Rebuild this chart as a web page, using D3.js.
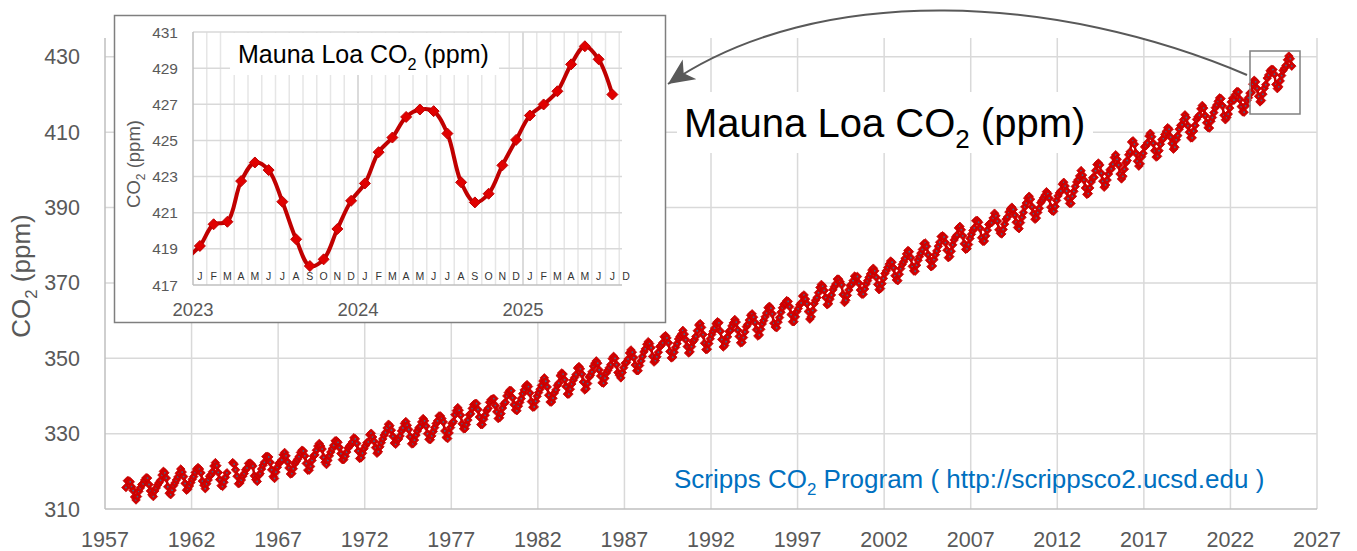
<!DOCTYPE html>
<html>
<head>
<meta charset="utf-8">
<script src="https://cdn.jsdelivr.net/npm/d3@7"></script>
<style>
  body { margin: 0; background: #fff; }
  svg { display: block; font-family: "Liberation Sans", Arial, sans-serif; }
</style>
</head>
<body>
<div id="chart"></div>
<script>
// Monthly Mauna Loa CO2 (ppm), one row per year, Jan..Dec (null = no value)
var firstYear = 1958;
var co2ByYear = [
  [null, null, 315.7, 317.5, 317.5, 317.2, 315.9, 314.9, 313.2, 312.4, 313.3, 314.7],
  [315.6, 316.5, 316.7, 317.7, 318.3, 318.2, 316.5, 314.8, 313.8, 313.3, 314.8, 315.6],
  [316.4, 317.0, 317.6, 319.0, 320.0, 319.6, 318.2, 315.9, 314.2, 313.8, 315.0, 316.2],
  [316.9, 317.7, 318.5, 319.5, 320.6, 319.8, 318.6, 316.8, 315.0, 315.3, 316.1, 317.0],
  [317.9, 318.6, 319.7, 320.6, 321.0, 320.6, 319.6, 317.4, 316.3, 315.4, 316.7, 317.7],
  [318.7, 319.1, 319.9, 321.4, 322.3, 321.5, 319.7, 317.8, 316.2, 316.0, 317.1, 318.4],
  [319.6, null, null, null, 322.3, 321.9, 320.4, 318.7, 316.7, 316.9, 317.7, 318.7],
  [319.4, 320.4, 320.9, 322.1, 322.2, 321.9, 321.4, 318.8, 317.8, 317.3, 318.9, 319.4],
  [320.6, 321.6, 322.4, 323.9, 324.0, 323.8, 322.4, 320.4, 318.6, 318.1, 319.8, 321.1],
  [322.1, 322.5, 323.0, 324.4, 325.0, 324.1, 322.5, 320.9, 319.3, 319.4, 320.7, 322.0],
  [322.6, 323.2, 323.9, 325.0, 325.6, 325.4, 324.1, 322.1, 320.3, 320.3, 321.3, 322.9],
  [324.0, 324.4, 325.6, 326.7, 327.4, 326.7, 325.9, 323.7, 322.4, 321.8, 322.9, 324.1],
  [325.1, 326.0, 326.9, 328.1, 328.1, 327.7, 326.3, 324.7, 323.1, 323.1, 324.0, 325.1],
  [326.2, 326.7, 327.2, 327.8, 328.9, 328.6, 327.4, 325.4, 323.4, 323.6, 324.8, 326.0],
  [326.8, 327.6, 327.8, 329.7, 330.1, 329.1, 328.0, 326.3, 324.8, 325.2, 326.5, 327.6],
  [328.6, 329.6, 330.3, 331.5, 332.5, 332.1, 330.9, 329.3, 327.5, 327.2, 328.2, 328.6],
  [329.4, 330.7, 331.5, 332.7, 333.2, 332.2, 331.1, 329.2, 327.3, 327.3, 328.3, 329.6],
  [330.7, 331.5, 331.9, 333.1, 334.0, 333.4, 332.0, 330.0, 328.5, 328.4, 329.4, 330.6],
  [331.6, 332.7, 333.4, 334.7, 334.7, 334.0, 333.1, 330.7, 329.0, 328.7, 330.2, 331.6],
  [332.7, 333.2, 335.0, 336.1, 336.9, 336.2, 334.9, 332.6, 331.3, 331.3, 332.4, 333.6],
  [335.0, 335.3, 336.7, 337.7, 338.0, 338.0, 336.4, 334.4, 332.4, 332.4, 333.8, 334.9],
  [336.1, 336.7, 338.3, 339.0, 339.2, 339.3, 337.5, 335.8, 334.0, 334.2, 335.3, 336.8],
  [337.9, 338.3, 340.0, 340.9, 341.5, 341.4, 339.5, 337.7, 336.3, 336.1, 337.3, 338.3],
  [339.3, 340.6, 341.6, 342.6, 343.0, 342.5, 340.8, 338.5, 337.0, 337.1, 338.6, 339.9],
  [340.9, 341.8, 342.8, 344.0, 344.8, 343.9, 342.4, 340.2, 338.4, 338.4, 339.4, 340.8],
  [341.6, 342.8, 343.4, 345.4, 346.1, 345.8, 344.3, 342.5, 340.5, 340.5, 341.8, 343.2],
  [344.2, 344.9, 345.7, 347.4, 347.8, 347.2, 345.8, 343.7, 341.6, 341.9, 343.3, 345.0],
  [345.5, 346.4, 347.9, 348.7, 349.3, 348.7, 346.9, 345.3, 343.5, 343.4, 344.7, 346.1],
  [346.8, 347.5, 348.3, 349.9, 350.5, 350.0, 348.3, 346.2, 345.5, 344.8, 346.2, 347.5],
  [348.7, 348.9, 349.8, 351.4, 352.2, 351.6, 350.2, 348.2, 346.7, 346.7, 348.1, 349.3],
  [350.5, 351.7, 352.5, 353.7, 354.4, 353.9, 352.8, 350.5, 349.0, 349.4, 350.4, 351.6],
  [353.1, 353.4, 354.1, 355.7, 356.0, 355.4, 354.1, 351.8, 350.1, 350.3, 351.6, 352.9],
  [353.9, 355.1, 355.8, 356.4, 357.4, 356.4, 354.9, 353.1, 351.4, 351.7, 353.1, 354.4],
  [354.9, 355.8, 357.3, 358.8, 359.2, 358.2, 356.3, 354.0, 352.3, 352.4, 353.9, 355.2],
  [356.3, 357.2, 358.0, 359.2, 359.7, 359.4, 357.2, 355.0, 353.0, 353.4, 354.4, 355.7],
  [357.1, 357.4, 358.6, 359.4, 360.3, 359.6, 357.5, 355.8, 354.1, 354.2, 355.5, 357.0],
  [358.4, 359.0, 360.1, 361.4, 361.8, 360.9, 359.5, 357.6, 355.9, 356.2, 357.7, 359.1],
  [360.0, 361.0, 362.0, 363.4, 363.8, 363.3, 361.8, 359.3, 358.3, 358.1, 359.6, 360.8],
  [362.2, 363.4, 364.3, 364.7, 365.3, 365.1, 363.7, 361.6, 359.7, 359.7, 361.0, 362.4],
  [363.2, 364.2, 364.7, 366.5, 366.8, 365.7, 364.5, 362.4, 360.4, 361.0, 362.7, 364.5],
  [365.4, 366.1, 367.4, 368.8, 369.6, 369.1, 368.0, 366.1, 364.2, 364.5, 365.7, 366.8],
  [368.2, 369.0, 369.7, 371.0, 371.0, 370.3, 369.5, 366.9, 364.8, 365.4, 366.7, 368.1],
  [369.3, 369.6, 370.6, 371.8, 371.6, 371.7, 369.9, 368.1, 367.0, 367.0, 368.4, 369.7],
  [370.6, 371.5, 372.4, 373.4, 373.9, 373.2, 371.5, 369.6, 368.2, 368.5, 369.8, 371.2],
  [372.5, 373.2, 374.1, 375.0, 375.8, 375.5, 374.0, 371.9, 370.8, 370.6, 372.3, 373.8],
  [374.9, 375.6, 376.5, 377.7, 378.6, 378.3, 376.7, 374.4, 373.2, 373.1, 374.7, 376.0],
  [377.0, 377.9, 378.9, 380.4, 380.6, 379.7, 377.5, 376.0, 374.3, 374.5, 376.2, 377.5],
  [378.5, 379.7, 380.8, 382.3, 382.5, 382.2, 380.7, 378.7, 376.7, 377.0, 378.4, 380.1],
  [381.4, 382.2, 382.7, 384.6, 385.0, 384.1, 382.5, 380.4, 378.9, 379.1, 380.2, 381.8],
  [382.9, 383.9, 384.6, 386.5, 386.6, 386.1, 384.5, 382.0, 381.0, 381.1, 382.5, 384.0],
  [385.5, 385.8, 386.0, 387.2, 388.5, 387.8, 386.4, 384.1, 383.2, 383.0, 384.2, 385.6],
  [386.9, 387.5, 388.8, 389.6, 390.1, 389.5, 388.0, 386.1, 384.7, 384.4, 386.0, 387.4],
  [388.7, 390.2, 391.2, 392.5, 393.0, 392.2, 390.2, 388.4, 386.9, 387.2, 388.7, 389.8],
  [391.3, 391.9, 392.6, 393.3, 394.2, 393.7, 392.5, 390.1, 389.1, 389.0, 390.3, 391.9],
  [393.1, 393.9, 394.4, 396.2, 396.7, 395.7, 394.4, 392.4, 391.1, 391.1, 393.0, 394.3],
  [395.6, 396.8, 397.4, 398.4, 399.8, 398.6, 397.3, 395.2, 393.5, 393.7, 395.2, 396.8],
  [397.9, 398.0, 399.8, 401.4, 401.8, 401.3, 399.1, 397.0, 395.4, 396.0, 397.3, 398.9],
  [400.0, 400.3, 401.5, 403.3, 404.0, 402.8, 401.3, 398.9, 397.6, 398.3, 400.2, 401.9],
  [402.5, 404.0, 404.8, 407.4, 407.7, 406.8, 404.4, 402.3, 401.0, 401.6, 403.5, 404.4],
  [406.1, 406.4, 407.2, 409.0, 409.7, 408.8, 407.1, 405.1, 403.4, 403.6, 405.1, 406.8],
  [408.0, 408.3, 409.4, 410.2, 411.2, 410.8, 408.7, 407.0, 405.5, 406.0, 408.0, 409.1],
  [410.8, 411.8, 412.0, 413.3, 414.6, 413.9, 411.7, 410.0, 408.5, 408.5, 410.3, 411.8],
  [413.4, 414.1, 414.5, 416.2, 417.1, 416.4, 414.4, 412.5, 411.2, 411.1, 412.9, 413.9],
  [415.2, 416.5, 417.2, 418.2, 419.1, 418.9, 417.0, 414.5, 413.3, 413.9, 414.8, 416.4],
  [418.0, 419.0, 418.5, 420.0, 420.8, 420.7, 418.7, 416.8, 415.4, 415.3, 417.0, 418.4],
  [419.16, 420.36, 420.5, 422.75, 423.78, 423.36, 421.61, 419.53, 418.05, 418.42, 420.1, 421.66],
  [422.62, 424.35, 425.16, 426.3, 426.71, 426.62, 425.38, 422.68, 421.57, 422.05, 423.62, 425.03],
  [426.38, 426.99, 427.72, 429.21, 430.21, 429.49, 427.54, null, null, null, null, null]
];

var mainYearTicks = [1957, 1962, 1967, 1972, 1977, 1982, 1987, 1992, 1997, 2002, 2007, 2012, 2017, 2022, 2027];
var mainCo2Ticks = [310, 330, 350, 370, 390, 410, 430];
var insetCo2Ticks = [417, 419, 421, 423, 425, 427, 429, 431];
var insetYearLabels = [2023, 2024, 2025];
var insetMonthLabels = ["J","F","M","A","M","J","J","A","S","O","N","D",
                        "J","F","M","A","M","J","J","A","S","O","N","D",
                        "J","F","M","A","M","J","J","D"];
var sourceText = "http://scrippsco2.ucsd.edu";

// flatten to points at mid-month
var series = [];
co2ByYear.forEach(function(row, i) {
  row.forEach(function(v, m) {
    series.push({ t: firstYear + i + (m + 0.5) / 12, v: v });
  });
});
// drop empty months at both ends
while (series.length && series[series.length - 1].v == null) series.pop();
while (series.length && series[0].v == null) series.shift();

var width = 1357, height = 551;
var svg = d3.select("#chart").append("svg")
  .attr("width", width)
  .attr("height", height);

var grey = "#595959";

function diamond(r) {
  return "M0," + (-r) + "L" + r + ",0L0," + r + "L" + (-r) + ",0Z";
}

// text with subscript 2 in CO2
function co2Text(sel, size, pre, post) {
  var t = sel.append("text").attr("font-size", size);
  t.append("tspan").text(pre + "CO");
  t.append("tspan").attr("font-size", size * 0.65).attr("dy", size * 0.28).text("2");
  t.append("tspan").attr("dy", -size * 0.28).text(post);
  return t;
}

// ---------- main chart ----------
var x = d3.scaleLinear().domain([1957, 2027]).range([105, 1317]);
var y = d3.scaleLinear().domain([310, 435]).range([509, 38]);

var main = svg.append("g");

main.append("g").selectAll("line")
  .data(mainYearTicks.slice(1))
  .enter().append("line")
  .attr("x1", function(d) { return x(d); })
  .attr("x2", function(d) { return x(d); })
  .attr("y1", y(435)).attr("y2", y(310))
  .attr("stroke", "#d9d9d9").attr("stroke-width", 1.5);

main.append("g").selectAll("line")
  .data(mainCo2Ticks.slice(1))
  .enter().append("line")
  .attr("x1", x(1957)).attr("x2", x(2027))
  .attr("y1", function(d) { return y(d); })
  .attr("y2", function(d) { return y(d); })
  .attr("stroke", "#d9d9d9").attr("stroke-width", 1.5);

// axis lines
main.append("line").attr("x1", x(1957)).attr("x2", x(1957)).attr("y1", y(435)).attr("y2", y(310))
  .attr("stroke", "#bfbfbf").attr("stroke-width", 1.5);
main.append("line").attr("x1", x(1957)).attr("x2", x(2027)).attr("y1", y(310)).attr("y2", y(310))
  .attr("stroke", "#bfbfbf").attr("stroke-width", 1.5);

// tick labels
main.append("g").selectAll("text")
  .data(mainYearTicks)
  .enter().append("text")
  .attr("x", function(d) { return x(d); })
  .attr("y", 547)
  .attr("text-anchor", "middle")
  .attr("font-size", 21.5)
  .attr("fill", grey)
  .text(function(d) { return d; });

main.append("g").selectAll("text")
  .data(mainCo2Ticks)
  .enter().append("text")
  .attr("x", 80)
  .attr("y", function(d) { return y(d) + 7.5; })
  .attr("text-anchor", "end")
  .attr("font-size", 21.5)
  .attr("fill", grey)
  .text(function(d) { return d; });

co2Text(main, 26, "", " (ppm)")
  .attr("transform", "translate(30,276) rotate(-90)")
  .attr("text-anchor", "middle")
  .attr("fill", grey);

// data
var mainLine = d3.line()
  .defined(function(d) { return d.v != null; })
  .x(function(d) { return x(d.t); })
  .y(function(d) { return y(d.v); });

main.append("path")
  .datum(series)
  .attr("d", mainLine)
  .attr("fill", "none")
  .attr("stroke", "#c00000")
  .attr("stroke-width", 2.5);

var pts = main.append("g").selectAll("g")
  .data(series.filter(function(d) { return d.v != null; }))
  .enter().append("g")
  .attr("transform", function(d) { return "translate(" + x(d.t) + "," + y(d.v) + ")"; });
pts.append("path")
  .attr("d", diamond(4.3))
  .attr("fill", "#d40000")
  .attr("stroke", "#c00000")
  .attr("stroke-width", 0.8);
pts.append("circle")
  .attr("r", 0.9)
  .attr("fill", "#3b6a8c");

// highlight box around recent data
main.append("rect")
  .attr("x", 1250).attr("y", 51)
  .attr("width", 50).attr("height", 63)
  .attr("fill", "none")
  .attr("stroke", "#808080")
  .attr("stroke-width", 1.5);

// big title with white background
main.append("rect")
  .attr("x", 677).attr("y", 92).attr("width", 416).attr("height", 61)
  .attr("fill", "#fff");
co2Text(main, 40, "Mauna Loa ", " (ppm)")
  .attr("x", 684).attr("y", 137)
  .attr("fill", "#000");

// source note
co2Text(main, 26, "Scripps ", " Program ( " + sourceText + " )")
  .attr("x", 674).attr("y", 488)
  .attr("fill", "#0070c0");

// ---------- inset ----------
var inset = svg.append("g");
var ix = d3.scaleLinear().domain([2023, 2025.6]).range([193, 622]);
var iy = d3.scaleLinear().domain([417, 431]).range([285, 32]);

inset.append("rect")
  .attr("x", 114.5).attr("y", 15.5)
  .attr("width", 551).attr("height", 307)
  .attr("fill", "#fff")
  .attr("stroke", "#7f7f7f")
  .attr("stroke-width", 1.5);

// month grid
var monthEdges = d3.range(1, 32).map(function(k) { return 2023 + k / 12; });
inset.append("g").selectAll("line")
  .data(monthEdges)
  .enter().append("line")
  .attr("x1", function(d) { return ix(d); })
  .attr("x2", function(d) { return ix(d); })
  .attr("y1", iy(431)).attr("y2", iy(417))
  .attr("stroke", function(d, i) { return (i + 1) % 12 === 0 ? "#cfcfcf" : "#e6e6e6"; })
  .attr("stroke-width", 1.5);

inset.append("g").selectAll("line")
  .data(insetCo2Ticks.slice(1))
  .enter().append("line")
  .attr("x1", ix(2023)).attr("x2", ix(2025.6))
  .attr("y1", function(d) { return iy(d); })
  .attr("y2", function(d) { return iy(d); })
  .attr("stroke", "#d9d9d9").attr("stroke-width", 1.5);

inset.append("line").attr("x1", ix(2023)).attr("x2", ix(2023)).attr("y1", iy(431)).attr("y2", iy(417))
  .attr("stroke", "#bfbfbf").attr("stroke-width", 1.5);
inset.append("line").attr("x1", ix(2023)).attr("x2", ix(2025.6)).attr("y1", iy(417)).attr("y2", iy(417))
  .attr("stroke", "#bfbfbf").attr("stroke-width", 1.5);

inset.append("g").selectAll("text")
  .data(insetCo2Ticks)
  .enter().append("text")
  .attr("x", 178)
  .attr("y", function(d) { return iy(d) + 5.5; })
  .attr("text-anchor", "end")
  .attr("font-size", 15.5)
  .attr("fill", grey)
  .text(function(d) { return d; });

inset.append("g").selectAll("text")
  .data(insetMonthLabels)
  .enter().append("text")
  .attr("x", function(d, i) { return ix(2023 + (i + 0.5) / 12); })
  .attr("y", 280)
  .attr("text-anchor", "middle")
  .attr("font-size", 10.5)
  .attr("fill", "#333")
  .text(function(d) { return d; });

inset.append("g").selectAll("text")
  .data(insetYearLabels)
  .enter().append("text")
  .attr("x", function(d) { return ix(d); })
  .attr("y", 316)
  .attr("text-anchor", "middle")
  .attr("font-size", 18.5)
  .attr("fill", grey)
  .text(function(d) { return d; });

co2Text(inset, 18.5, "", " (ppm)")
  .attr("transform", "translate(140,164) rotate(-90)")
  .attr("text-anchor", "middle")
  .attr("fill", grey);

// inset title
inset.append("rect")
  .attr("x", 230).attr("y", 33).attr("width", 269).attr("height", 42)
  .attr("fill", "#fff");
co2Text(inset, 25, "Mauna Loa ", " (ppm)")
  .attr("x", 238).attr("y", 63)
  .attr("fill", "#000");

// inset data
svg.append("clipPath").attr("id", "insetClip")
  .append("rect").attr("x", ix(2023)).attr("y", 20).attr("width", ix(2025.6) - ix(2023)).attr("height", 280);

var recent = series.filter(function(d) { return d.t > 2022.8 && d.v != null; });

var insetLine = d3.line()
  .curve(d3.curveCatmullRom.alpha(0.5))
  .x(function(d) { return ix(d.t); })
  .y(function(d) { return iy(d.v); });

var ig = inset.append("g").attr("clip-path", "url(#insetClip)");
ig.append("path")
  .datum(recent)
  .attr("d", insetLine)
  .attr("fill", "none")
  .attr("stroke", "#c00000")
  .attr("stroke-width", 4)
  .attr("stroke-linejoin", "round");

ig.selectAll(".mk")
  .data(recent.filter(function(d) { return d.t > 2023; }))
  .enter().append("path")
  .attr("class", "mk")
  .attr("transform", function(d) { return "translate(" + ix(d.t) + "," + iy(d.v) + ")"; })
  .attr("d", diamond(5.5))
  .attr("fill", "#e00000")
  .attr("stroke", "#c00000")
  .attr("stroke-width", 1);

// ---------- curved arrow ----------
var defs = svg.append("defs");
defs.append("marker")
  .attr("id", "arrowHead")
  .attr("viewBox", "0 -13 27 26")
  .attr("refX", 26).attr("refY", 0)
  .attr("markerWidth", 27).attr("markerHeight", 26)
  .attr("markerUnits", "userSpaceOnUse")
  .attr("orient", "auto")
  .append("path")
  .attr("d", "M0,-12L26,0L0,12L7,0Z")
  .attr("fill", grey);

svg.append("path")
  .attr("d", "M1247,75 C1060,-5 820,-20 668,84")
  .attr("fill", "none")
  .attr("stroke", grey)
  .attr("stroke-width", 2)
  .attr("marker-end", "url(#arrowHead)");
</script>
</body>
</html>
